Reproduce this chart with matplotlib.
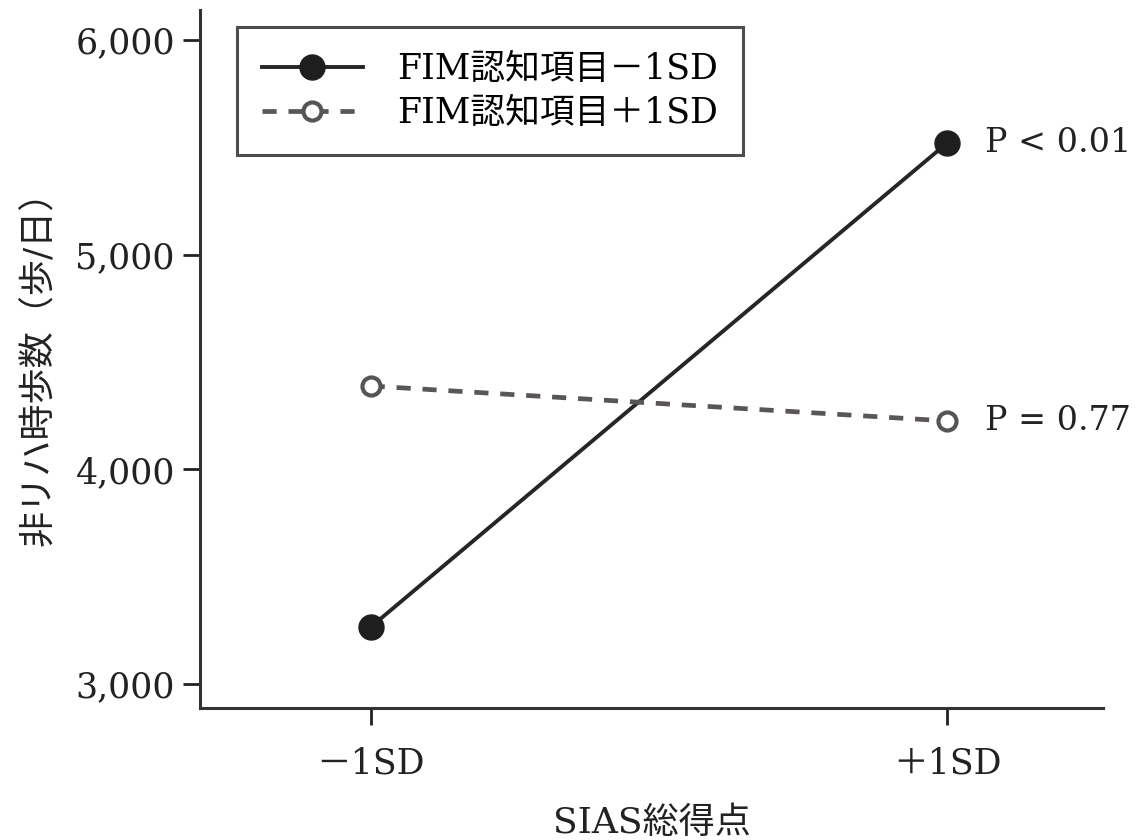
import matplotlib
matplotlib.use("Agg")
import matplotlib.pyplot as plt
from matplotlib.ticker import FuncFormatter

# simple slopes: steps/day at low and high SIAS, split by FIM cognition
sias_levels = ["－1SD", "＋1SD"]
fim_low = [3265, 5520]
fim_high = [4388, 4225]
series_labels = ["FIM認知項目－1SD", "FIM認知項目＋1SD"]
p_labels = ["P < 0.01", "P = 0.77"]
y_ticks = [3000, 4000, 5000, 6000]

plt.rcParams['font.family'] = ['DejaVu Serif', 'Noto Sans CJK JP']
plt.rcParams['axes.linewidth'] = 2.2

fig = plt.figure(figsize=(11.38, 8.4), dpi=100)
ax = fig.add_axes([0.1757, 0.1571, 0.7935, 0.831])

x = list(range(len(sias_levels)))
ax.plot(x, fim_low, color="#262626", lw=2.8, marker="o", ms=18,
        mfc="#1e1e1e", mec="#1e1e1e", label=series_labels[0])
ax.plot(x, fim_high, color="#5a5656", lw=3.4, ls=(0, (3.0, 2.5)), marker="o", ms=13,
        mfc="white", mec="#555", mew=3, label=series_labels[1])

for yv, txt in zip([fim_low[-1], fim_high[-1]], p_labels):
    ax.annotate(txt, (x[-1], yv), xytext=(27, 0), textcoords="offset points",
                va="center", ha="left", fontsize=24, color="#222")

ax.set_xlim(-0.296, 1.27)
ax.set_ylim(2888, 6139)
ax.set_xticks(x)
ax.set_xticklabels(sias_levels)
ax.set_yticks(y_ticks)
ax.yaxis.set_major_formatter(FuncFormatter(lambda v, p: f"{int(v):,}"))
ax.tick_params(labelsize=25, length=12, width=2, colors="#222", pad=6)
ax.tick_params(axis="x", pad=16)
for s in ["top", "right"]:
    ax.spines[s].set_visible(False)
for s in ["left", "bottom"]:
    ax.spines[s].set_color("#333")

ax.set_xlabel("SIAS総得点", fontsize=26, labelpad=18, color="#222")
ax.set_ylabel("非リハ時歩数（歩/日）", fontsize=26, labelpad=14, color="#222")

leg = ax.legend(loc="upper left", bbox_to_anchor=(0.041, 0.976), borderaxespad=0,
                fontsize=25, frameon=True, fancybox=False, edgecolor="#222",
                handlelength=2.9, borderpad=0.72, labelspacing=0.3, handletextpad=1.0)
leg.get_frame().set_linewidth(2.2)

fig.savefig("out.png", dpi=100, facecolor="white")
